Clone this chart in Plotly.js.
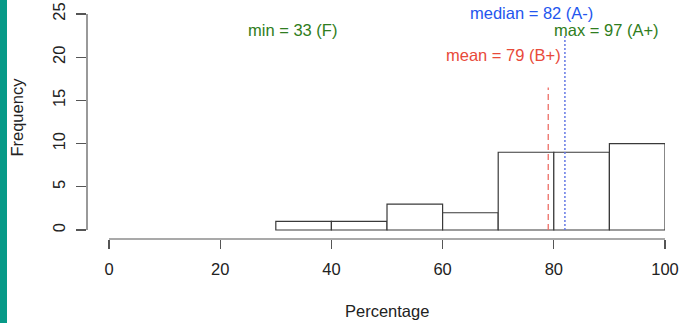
<!DOCTYPE html>
<html>
<head>
<meta charset="utf-8">
<script src="https://cdn.plot.ly/plotly-3.0.1.min.js"></script>
<style>
html,body{margin:0;padding:0;background:#fff;}
#wrap{position:relative;width:681px;height:323px;}
#strip{position:absolute;left:0;top:0;width:7px;height:323px;background:#079a88;z-index:10;}
#chart{width:681px;height:323px;}
</style>
</head>
<body>
<div id="wrap"><div id="strip"></div><div id="chart"></div></div>
<script>
// Histogram bins (lower edges) and counts
const binStarts = [30, 40, 50, 60, 70, 80, 90];
const binWidth = 10;
const counts = [1, 1, 3, 2, 9, 9, 10];

// Summary statistics
const statNames = ["min", "median", "max", "mean"];
const statValues = [33, 82, 97, 79];
const statGrades = ["F", "A-", "A+", "B+"];

const xTicks = [0, 20, 40, 60, 80, 100];
const yTicks = [0, 5, 10, 15, 20, 25];
const xTitle = "Percentage";
const yTitle = "Frequency";

const font = "Liberation Sans, Arial, sans-serif";
const green = "#2f7d20", blue = "#2456ee", red = "#e84a3a";
const fs = 16.5;

const trace = {
  type: "bar",
  x: binStarts.map(b => b + binWidth / 2),
  y: counts,
  width: binStarts.map(() => binWidth),
  marker: {color: "#ffffff", line: {color: "#3a3a3a", width: 1.2}},
  hoverinfo: "skip"
};

const sv = {};
statNames.forEach((n, i) => sv[n] = {v: statValues[i], g: statGrades[i]});

const yMin = -1.04, yMax = 25;
const toPaper = y => (y - yMin) / (yMax - yMin);

// label placement per statistic
const labelPos = {
  min: {x: sv.min.v, y: 23.1, c: green},
  median: {x: sv.median.v - 6, y: 25.1, c: blue},
  max: {x: sv.max.v - 7.6, y: 23.1, c: green},
  mean: {x: sv.mean.v - 8, y: 20.3, c: red}
};

const annotations = statNames.map(n => ({
  x: labelPos[n].x, y: toPaper(labelPos[n].y), xref: "x", yref: "paper",
  text: n + " = " + sv[n].v + " (" + sv[n].g + ")",
  showarrow: false, xanchor: "center", yanchor: "middle",
  font: {family: font, size: fs, color: labelPos[n].c}
}));

// axis titles (centred on the 0..100 / 0..25 spans as in the original)
annotations.push({
  x: 50, xref: "x", y: -0.319, yref: "paper", text: xTitle, showarrow: false,
  xanchor: "center", yanchor: "middle", font: {family: font, size: fs, color: "#222"}
});
annotations.push({
  x: -0.121, xref: "paper", y: 0.54, yref: "paper", text: yTitle, showarrow: false,
  textangle: -90, xanchor: "center", yanchor: "middle", font: {family: font, size: fs, color: "#222"}
});

const shapes = [
  {type: "line", xref: "x", yref: "paper", x0: xTicks[0], x1: xTicks[xTicks.length-1], y0: 0, y1: 0,
   line: {color: "#555", width: 1.2}},
  {type: "line", xref: "paper", yref: "y", x0: 0, x1: 0, y0: yTicks[0], y1: yTicks[yTicks.length-1],
   line: {color: "#555", width: 1.2}},
  {type: "line", xref: "x", yref: "y", x0: sv.mean.v, x1: sv.mean.v, y0: 0, y1: 16.5,
   line: {color: "#ee6e66", width: 1.3, dash: "6px,4px"}},
  {type: "line", xref: "x", yref: "y", x0: sv.median.v, x1: sv.median.v, y0: 0, y1: 22.6,
   line: {color: "#6478e4", width: 1.5, dash: "2px,2px"}}
];

const layout = {
  width: 681, height: 323,
  margin: {l: 87, r: 16, t: 14, b: 84},
  paper_bgcolor: "#fff", plot_bgcolor: "#fff",
  showlegend: false,
  bargap: 0,
  font: {family: font, size: fs, color: "#222"},
  xaxis: {
    range: [-3.96, 100], tickvals: xTicks, ticktext: xTicks.map(String),
    ticks: "outside", ticklen: 9, tickcolor: "#555", tickwidth: 1.2,
    ticklabelstandoff: 6,
    showline: false, showgrid: false, zeroline: false,
    tickfont: {family: font, size: fs, color: "#222"},
    automargin: false, fixedrange: true
  },
  yaxis: {
    range: [yMin, yMax], tickvals: yTicks, ticktext: yTicks.map(String),
    ticks: "outside", ticklen: 10, tickcolor: "#555", tickwidth: 1.2, tickangle: -90,
    ticklabelstandoff: 4,
    showline: false, showgrid: false, zeroline: false,
    tickfont: {family: font, size: fs, color: "#222"},
    automargin: false, fixedrange: true
  },
  annotations: annotations,
  shapes: shapes
};

Plotly.newPlot("chart", [trace], layout, {staticPlot: true, displayModeBar: false});
</script>
</body>
</html>
